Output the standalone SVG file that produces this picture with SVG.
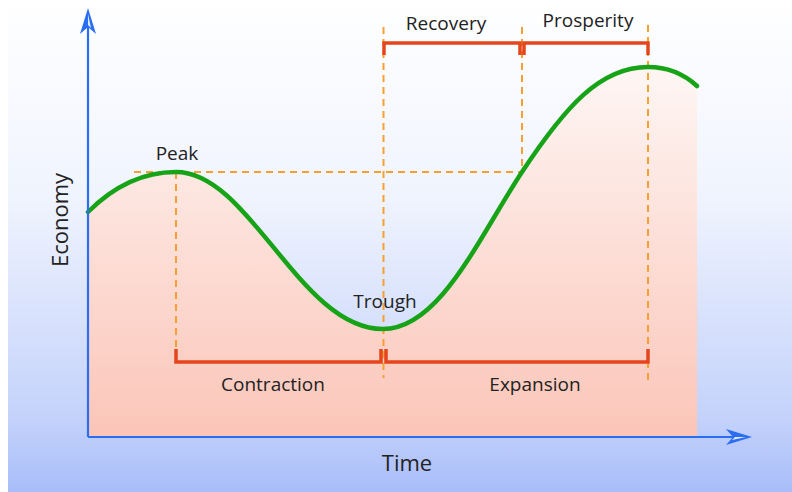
<svg xmlns="http://www.w3.org/2000/svg" width="792" height="492" viewBox="0 0 792 492">
  <defs>
    <linearGradient id="bg" x1="0" y1="0" x2="0" y2="492" gradientUnits="userSpaceOnUse">
      <stop offset="0" stop-color="#ffffff"/>
      <stop offset="0.4" stop-color="#f0f4fe"/>
      <stop offset="0.85" stop-color="#c4d2fb"/>
      <stop offset="1" stop-color="#a8bdf9"/>
    </linearGradient>
    <linearGradient id="pink" x1="0" y1="60" x2="0" y2="437" gradientUnits="userSpaceOnUse">
      <stop offset="0" stop-color="#fef7f5"/>
      <stop offset="1" stop-color="#fbc5b8"/>
    </linearGradient>
    <style>
      .lbl { font-family: "Open Sans", "Liberation Sans", sans-serif; font-size: 19px; fill: #222222; text-anchor: middle; }
      .axl { font-size: 22px; }
      .guide { stroke: #f7a032; stroke-width: 2; stroke-dasharray: 7 5; fill: none; }
      .bracket { stroke: #e4451b; stroke-width: 3.5; fill: none; stroke-linejoin: miter; }
      .axis { stroke: #2b6ef2; stroke-width: 2.2; fill: none; }
      .head { fill: #2b6ef2; }
      .hl { fill: #dfe9ff; }
    </style>
  </defs>

  <rect x="0" y="0" width="792" height="492" fill="#ffffff"/>
  <rect x="8" y="0" width="784" height="492" fill="url(#bg)"/>

  <g id="area">
    <path d="M88,212 C110,190 140,172 176,172 C250,172 300,329 383,329 C440,329 479,237 522,172 C565,107 600,67 648,67 C670,67 685,75 697,86 L697,437 L88,437 Z" fill="url(#pink)"/>
  </g>

  <g id="guides">
    <line class="guide" x1="134" y1="172" x2="522" y2="172"/>
    <line class="guide" x1="176" y1="172" x2="176" y2="360"/>
    <line class="guide" x1="383.5" y1="27" x2="383.5" y2="378"/>
    <line class="guide" x1="522" y1="27" x2="522" y2="172"/>
    <line class="guide" x1="648" y1="25" x2="648" y2="384"/>
  </g>

  <g id="curve">
    <path d="M88,212 C110,190 140,172 176,172 C250,172 300,329 383,329 C440,329 479,237 522,172 C565,107 600,67 648,67 C670,67 685,75 697,86" fill="none" stroke="#17a317" stroke-width="4.5" stroke-linecap="round"/>
  </g>

  <g id="brackets">
    <path class="bracket" d="M384,55 L384,43 L520,43 L520,55"/>
    <path class="bracket" d="M524,55 L524,43 L648,43 L648,55"/>
    <path class="bracket" d="M176,349 L176,362 L381,362 L381,349"/>
    <path class="bracket" d="M386,349 L386,362 L648,362 L648,349"/>
  </g>

  <g id="axes">
    <line class="axis" x1="88" y1="437" x2="88" y2="18"/>
    <line class="axis" x1="88" y1="437" x2="740" y2="437"/>
    <path class="head" d="M88,8 L96,34 L88,27 L80,34 Z"/>
    <path class="hl" d="M88,14 L91,28 L88,25 Z"/>
    <path class="head" d="M752,437 L726,445 L733,437 L726,429 Z"/>
    <path class="hl" d="M746,437 L732,440 L735,437 Z"/>
  </g>

  <g id="labels">
    <text class="lbl" x="446" y="30">Recovery</text>
    <text class="lbl" x="588" y="27">Prosperity</text>
    <text class="lbl" x="177" y="160">Peak</text>
    <text class="lbl" x="385" y="308">Trough</text>
    <text class="lbl" x="273" y="391">Contraction</text>
    <text class="lbl" x="535" y="391">Expansion</text>
    <text class="lbl axl" x="407" y="471">Time</text>
    <text class="lbl axl" transform="translate(68,220) rotate(-90)">Economy</text>
  </g>
</svg>
